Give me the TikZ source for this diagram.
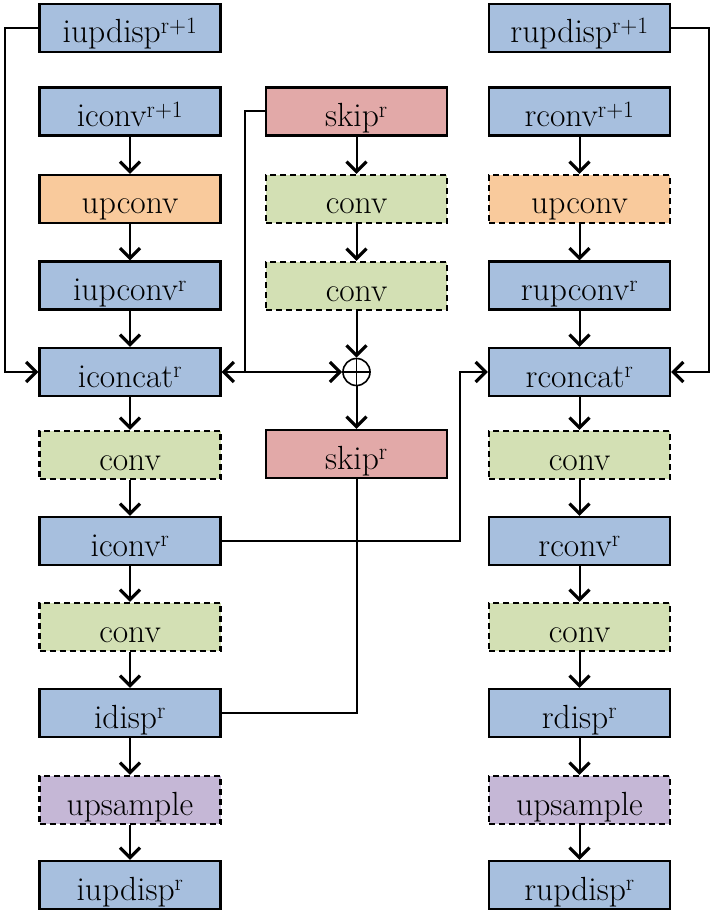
\documentclass[tikz,border=0pt]{standalone}
\usepackage{fontspec}
\usetikzlibrary{arrows.meta}
\definecolor{cblue}{HTML}{A7BFDE}
\definecolor{corange}{HTML}{F9CA9C}
\definecolor{cgreen}{HTML}{D3E0B4}
\definecolor{cred}{HTML}{E2A9A8}
\definecolor{cpurple}{HTML}{C5B7D6}
\tikzset{
  blk/.style={draw=black, line width=2.4pt, minimum width=181pt, minimum height=48pt,
    inner sep=0pt, text height=36pt, text depth=6pt, font=\fontsize{33.5}{38}\selectfont},
  bluebox/.style={blk, fill=cblue},
  orangebox/.style={blk, fill=corange},
  redbox/.style={blk, fill=cred},
  dashbox/.style={dash pattern=on 6pt off 4pt},
  greenbox/.style={blk, fill=cgreen, dashbox},
  purplebox/.style={blk, fill=cpurple, dashbox},
  conn/.style={line width=2pt},
  arr/.style={conn, -{Straight Barb[length=10pt, width=20pt, line width=3.2pt]}},
}
\begin{document}
\begin{tikzpicture}[x=1pt, y=-1pt]
\useasboundingbox (0,0) rectangle (711,917);
% left column
\node[bluebox] (iupdispA) at (130,28) {iupdisp\textsuperscript{r+1}};
\node[bluebox] (iconvA) at (130,111.5) {iconv\textsuperscript{r+1}};
\node[orangebox] (lupconv) at (130,199) {upconv};
\node[bluebox] (iupconv) at (130,285.5) {iupconv\textsuperscript{r}};
\node[bluebox] (iconcat) at (130,372) {iconcat\textsuperscript{r}};
\node[greenbox] (lconvA) at (130,455) {conv};
\node[bluebox] (iconv) at (130,541) {iconv\textsuperscript{r}};
\node[greenbox] (lconvB) at (130,627) {conv};
\node[bluebox] (idisp) at (130,713) {idisp\textsuperscript{r}};
\node[purplebox] (lups) at (130,800) {upsample};
\node[bluebox] (iupdisp) at (130,885) {iupdisp\textsuperscript{r}};
% middle column
\node[redbox] (skipA) at (356.5,111.5) {skip\textsuperscript{r}};
\node[greenbox] (mconvA) at (356.5,199) {conv};
\node[greenbox] (mconvB) at (356.5,286) {conv};
\node[draw=black, line width=1.6pt, circle, minimum size=27pt, inner sep=0pt] (oplus) at (356.5,372) {};
\draw[line width=1.6pt] (oplus.north) -- (oplus.south) (oplus.west) -- (oplus.east);
\node[redbox] (skipB) at (356.5,454) {skip\textsuperscript{r}};
% right column
\node[bluebox] (rupdispA) at (579.5,28) {rupdisp\textsuperscript{r+1}};
\node[bluebox] (rconvA) at (579.5,111.5) {rconv\textsuperscript{r+1}};
\node[orangebox, dashbox] (rupconv) at (579.5,199) {upconv};
\node[bluebox] (rupconvr) at (579.5,285.5) {rupconv\textsuperscript{r}};
\node[bluebox] (rconcat) at (579.5,372) {rconcat\textsuperscript{r}};
\node[greenbox] (rconvB) at (579.5,455) {conv};
\node[bluebox] (rconv) at (579.5,541) {rconv\textsuperscript{r}};
\node[greenbox] (rconvC) at (579.5,627) {conv};
\node[bluebox] (rdisp) at (579.5,713) {rdisp\textsuperscript{r}};
\node[purplebox] (rups) at (579.5,800) {upsample};
\node[bluebox] (rupdisp) at (579.5,885) {rupdisp\textsuperscript{r}};
% coordinates
\coordinate (lrail) at (5,0);
\coordinate (sj) at (245,372);
\coordinate (mrail) at (460,372);
\coordinate (rrail) at (709,372);
% left chain
\draw[arr] (iconvA) -- (lupconv);
\draw[arr] (lupconv) -- (iupconv);
\draw[arr] (iupconv) -- (iconcat);
\draw[arr] (iconcat) -- (lconvA);
\draw[arr] (lconvA) -- (iconv);
\draw[arr] (iconv) -- (lconvB);
\draw[arr] (lconvB) -- (idisp);
\draw[arr] (idisp) -- (lups);
\draw[arr] (lups) -- (iupdisp);
\draw[arr] (iupdispA.west) -| (lrail |- iconcat.west) -- (iconcat.west);
% middle chain
\draw[arr] (skipA) -- (mconvA);
\draw[arr] (mconvA) -- (mconvB);
\draw[arr] (mconvB) -- (oplus.north);
\draw[arr] (oplus.south) -- (skipB);
\draw[conn] (skipA.west) -| (sj);
\draw[arr] (sj) -- (iconcat.east);
\draw[arr] (sj) -- (oplus.west);
\draw[conn] (skipB.south) |- (idisp.east);
\draw[arr] (iconv.east) -| (mrail) -- (rconcat.west);
% right chain
\draw[arr] (rconvA) -- (rupconv);
\draw[arr] (rupconv) -- (rupconvr);
\draw[arr] (rupconvr) -- (rconcat);
\draw[arr] (rconcat) -- (rconvB);
\draw[arr] (rconvB) -- (rconv);
\draw[arr] (rconv) -- (rconvC);
\draw[arr] (rconvC) -- (rdisp);
\draw[arr] (rdisp) -- (rups);
\draw[arr] (rups) -- (rupdisp);
\draw[arr] (rupdispA.east) -| (rrail) -- (rconcat.east);
\end{tikzpicture}
\end{document}
